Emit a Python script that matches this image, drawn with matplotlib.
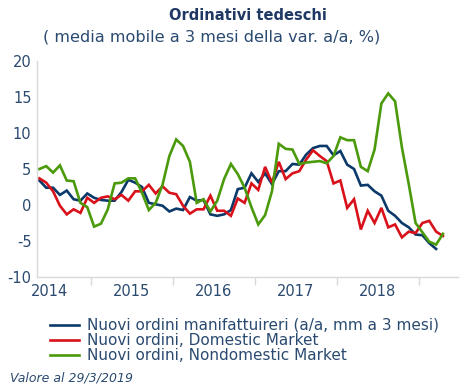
import matplotlib
matplotlib.use("Agg")
import matplotlib.pyplot as plt
from matplotlib.lines import Line2D

years = ["2014", "2015", "2016", "2017", "2018"]

manifatturieri = [3.4, 2.4, 2.4, 1.4, 2.0, 0.8, 0.6, 1.6, 1.0, 0.7,
                  0.6, 0.6, 1.8, 3.5, 3.1, 2.5, 0.3, 0.1, -0.1, -0.9,
                  -0.5, -0.7, 1.1, 0.6, 0.7, -1.3, -1.5, -1.3, -0.7, 2.2,
                  2.4, 4.4, 3.2, 4.4, 2.9, 4.7, 4.7, 5.7, 5.6, 7.0,
                  7.9, 8.2, 8.2, 6.9, 7.5, 5.6, 5.0, 2.7, 2.8, 1.9,
                  1.3, -0.8, -1.5, -2.5, -3.1, -4.1, -4.2, -5.3, -6.1]

domestic = [3.7, 3.1, 1.9, -0.1, -1.3, -0.6, -1.1, 1.0, 0.3, 1.0,
            1.2, 0.8, 1.4, 0.6, 1.9, 1.9, 2.8, 1.6, 2.6, 1.7,
            1.5, -0.1, -1.2, -0.6, -0.6, 1.3, -0.8, -0.8, -1.5, 0.9,
            0.3, 3.0, 2.1, 5.3, 3.1, 6.0, 3.6, 4.4, 4.7, 6.3,
            7.6, 6.8, 6.1, 3.0, 3.4, -0.4, 0.8, -3.4, -0.8, -2.5,
            -0.4, -3.1, -2.7, -4.5, -3.7, -3.9, -2.5, -2.2, -3.7, -4.3]

nondomestic = [5.0, 5.4, 4.5, 5.5, 3.4, 3.3, 0.3, -0.3, -3.0, -2.6,
               -0.6, 3.0, 3.1, 3.7, 3.7, 1.7, -0.7, 0.3, 2.8, 6.8,
               9.1, 8.2, 6.0, 0.3, 0.8, -0.9, 0.6, 3.6, 5.7, 4.3,
               2.4, -0.3, -2.7, -1.4, 1.9, 8.5, 7.8, 7.7, 5.7, 5.9,
               6.0, 6.1, 5.8, 6.8, 9.4, 9.0, 9.0, 5.3, 4.7, 7.7,
               14.1, 15.5, 14.4, 8.0, 2.9, -2.5, -3.8, -5.1, -5.5, -4.0]

labels = ["Nuovi ordini manifattuireri (a/a, mm a 3 mesi)",
          "Nuovi ordini, Domestic Market",
          "Nuovi ordini, Nondomestic Market"]
colors = ["#0B3A6A", "#D9111B", "#4A9A0B"]

txt = "#2A4A70"
plt.rcParams['font.family'] = ['DejaVu Sans']

fig = plt.figure(figsize=(4.74, 3.91), dpi=100)
ax = fig.add_axes([37/474, 1-277/391, (458-37)/474, (277-61)/391])

for series, c in zip([manifatturieri, domestic, nondomestic], colors):
    ax.plot(range(len(series)), series, color=c, lw=1.9, solid_joinstyle='miter')

ax.set_ylim(-10, 20)
ax.set_yticks([-10, -5, 0, 5, 10, 15, 20])
ax.set_yticklabels(["-10", "-5", "0", "5", "10", "15", "20"])
ax.set_xlim(-0.35, 61.2)
ax.set_xticks([7.5 + 12*k for k in range(5)])
ax.set_xticklabels([])
ax.set_xticks([1.5 + 12*k for k in range(5)], minor=True)
ax.set_xticklabels(years, minor=True)
ax.tick_params(axis='x', which='major', length=6, color="#D9D9D9", width=1)
ax.tick_params(axis='x', which='minor', length=0, labelsize=10.5, labelcolor=txt, pad=5)
ax.tick_params(axis='y', length=0, labelsize=10.5, labelcolor=txt, pad=4)

for s in ['top', 'right']:
    ax.spines[s].set_visible(False)
for s in ['left', 'bottom']:
    ax.spines[s].set_color("#D9D9D9")
    ax.spines[s].set_linewidth(1)

fig.text(248/474, 1-15/391, "Ordinativi tedeschi", ha='center', va='center',
         fontsize=10.5, fontweight='bold', color="#1F3864")
fig.text(43/474, 1-37/391, "( media mobile a 3 mesi della var. a/a, %)", ha='left', va='center',
         fontsize=11.6, color=txt)

handles = [Line2D([0], [0], color=c, lw=1.9) for c in colors]
fig.legend(handles, labels, loc='upper left', bbox_to_anchor=(50/474, 1-318/391),
           frameon=False, borderpad=0, borderaxespad=0, handlelength=1.9,
           handletextpad=0.5, labelspacing=0.0, fontsize=11.0, labelcolor=txt)

fig.text(10/474, 1-378/391, "Valore al 29/3/2019", ha='left', va='center',
         fontsize=9, style='italic', color=txt)

fig.savefig("out.png", dpi=100)
